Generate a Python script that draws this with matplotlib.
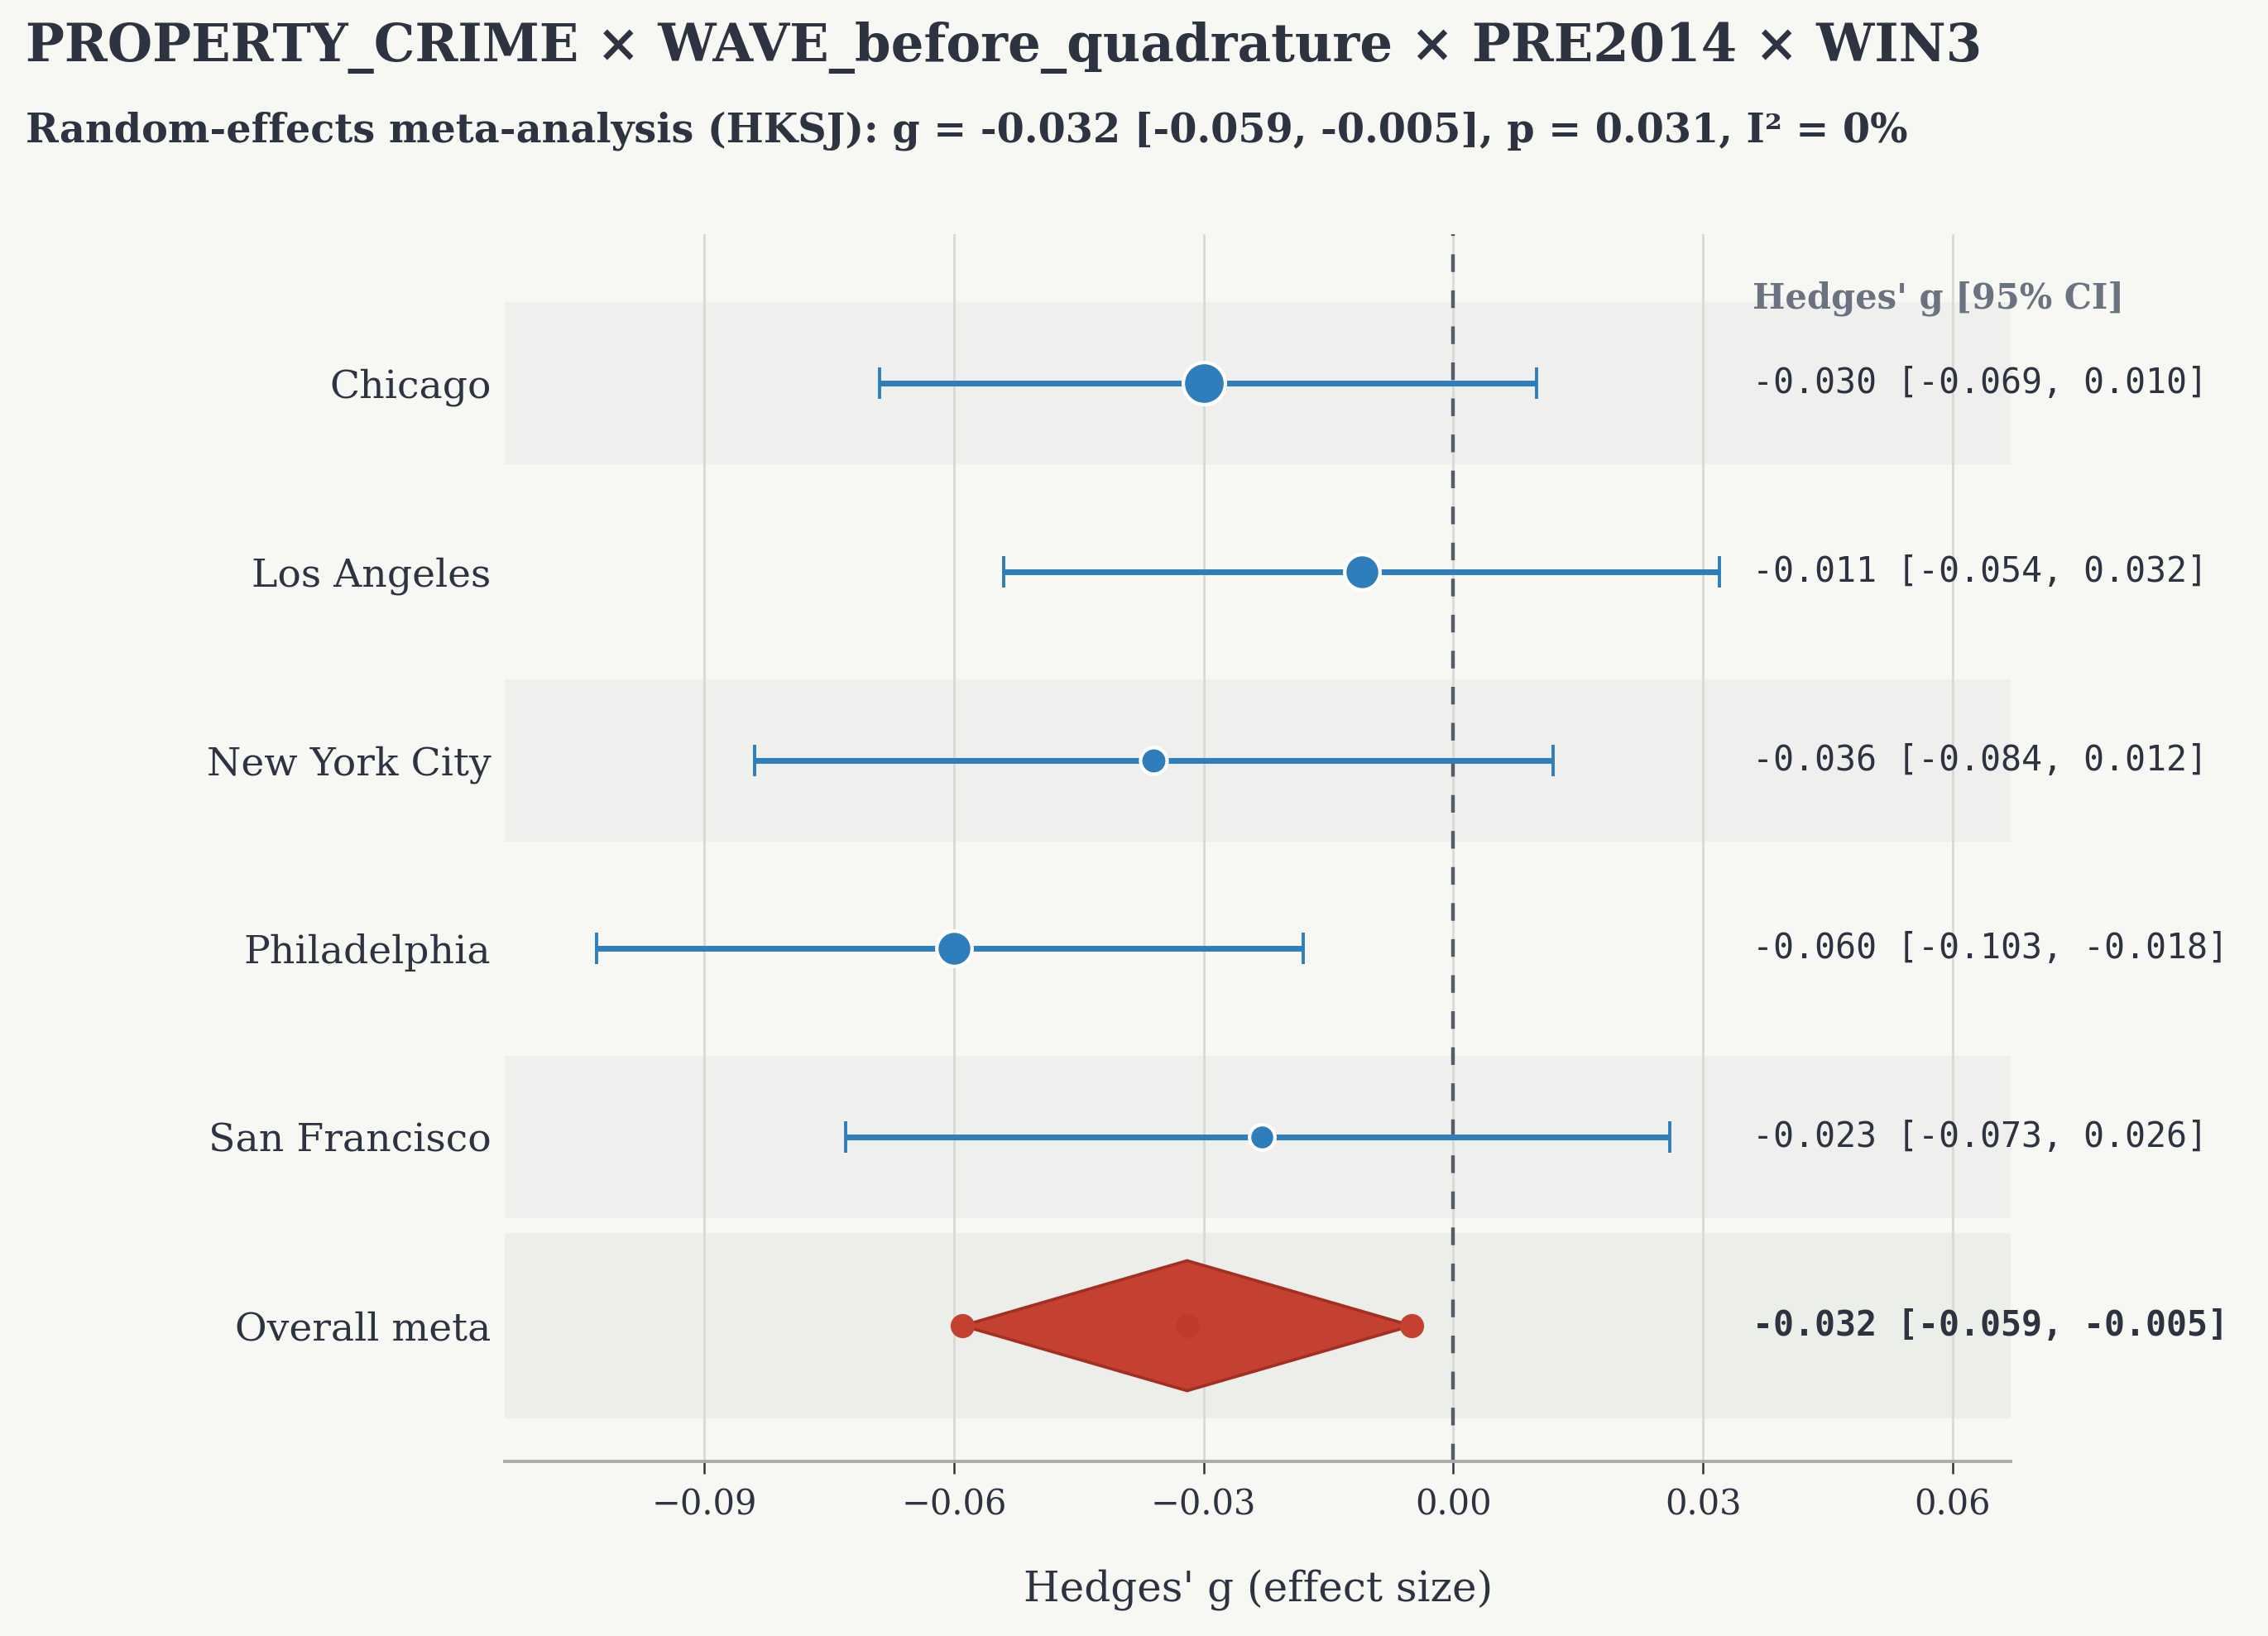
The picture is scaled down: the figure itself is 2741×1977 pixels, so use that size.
import matplotlib
matplotlib.use("Agg")
import matplotlib.pyplot as plt
import numpy as np

studies = ["Chicago", "Los Angeles", "New York City", "Philadelphia", "San Francisco"]
g = [-0.030, -0.011, -0.036, -0.060, -0.023]
lo = [-0.069, -0.054, -0.084, -0.103, -0.073]
hi = [0.010, 0.032, 0.012, -0.018, 0.026]
weights = [1.0, 0.76, 0.45, 0.76, 0.41]
overall_label = "Overall meta"
overall = -0.032
overall_lo = -0.059
overall_hi = -0.005
xticks = [-0.09, -0.06, -0.03, 0.00, 0.03, 0.06]

BG = "#f7f7f3"
BLUE = "#2e7ebb"
RED = "#c44031"
DARK = "#2d3340"

fig = plt.figure(figsize=(2741/200, 1977/200), dpi=200, facecolor=BG)
ax = fig.add_axes([0.2226, 0.1067, 0.664, 0.7502])
ax.set_facecolor(BG)

n = len(studies)
ypos = np.arange(n, 0, -1)  # 5..1
for i, y in enumerate(ypos):
    if i % 2 == 0:
        ax.axhspan(y - 0.43, y + 0.43, color="#efefed", zorder=0, lw=0)
ax.axhspan(-0.49, 0.49, color="#eceee9", zorder=0, lw=0)

ax.set_xlim(-0.114, 0.067)
ax.set_ylim(-0.72, n + 0.79)
ax.set_xticks(xticks)
ax.grid(axis="x", color="#d8d8d4", lw=1.0, zorder=0.5)
ax.set_axisbelow(True)

ax.axvline(0, color="#555c6a", ls=(0, (4.8, 5.0)), lw=1.6, zorder=1)

for y, gi, l, h, w in zip(ypos, g, lo, hi, weights):
    ax.errorbar([gi], [y], xerr=[[gi - l], [h - gi]], fmt="none", ecolor=BLUE,
                elinewidth=2.5, capsize=6.7, capthick=1.4, zorder=3)
    ax.plot([gi], [y], "o", ms=6 + 12.3 * w, color=BLUE, mec="white", mew=1.5, zorder=4)

hh = 0.345
ax.fill([overall_lo, overall, overall_hi, overall], [0, hh, 0, -hh],
        facecolor=RED, edgecolor="#a32e22", lw=1.3, zorder=3)
ax.plot([overall_lo, overall_hi], [0, 0], "o", ms=9.5, color=RED, zorder=4)
ax.plot([overall], [0], "o", ms=9.5, color="#c0392b", alpha=0.6, zorder=4)

ax.set_yticks(list(ypos) + [0])
ax.set_yticklabels(studies + [overall_label], family="DejaVu Serif", fontsize=17, color=DARK)
ax.tick_params(axis="y", length=0, pad=6)
ax.tick_params(axis="x", length=5.5, color=DARK, labelsize=15, labelcolor=DARK, width=0.9, pad=6)
for lab in ax.get_xticklabels():
    lab.set_family("DejaVu Serif")

for s in ["top", "right", "left"]:
    ax.spines[s].set_visible(False)
ax.spines["bottom"].set_color("#aaaca5")
ax.spines["bottom"].set_linewidth(1.4)

ax.set_xlabel("Hedges' g (effect size)", family="DejaVu Serif", fontsize=18, color=DARK, labelpad=20)

tx = 0.036
ax.text(tx, n + 0.45, "Hedges' g [95% CI]", family="DejaVu Serif", fontsize=15,
        fontweight="bold", color="#6b7280", va="center", ha="left")
for y, gi, l, h in zip(ypos, g, lo, hi):
    ax.text(tx, y, f"{gi:.3f} [{l:.3f}, {h:.3f}]", family="DejaVu Sans Mono",
            fontsize=15, color=DARK, va="center", ha="left")
ax.text(tx, 0, f"{overall:.3f} [{overall_lo:.3f}, {overall_hi:.3f}]", family="DejaVu Sans Mono",
        fontsize=15, fontweight="bold", color=DARK, va="center", ha="left")

fig.text(0.0113, 0.971, "PROPERTY_CRIME × WAVE_before_quadrature × PRE2014 × WIN3",
         family="DejaVu Serif", fontsize=22.5, fontweight="bold", color=DARK, va="center", ha="left")
fig.text(0.0113, 0.92, "Random-effects meta-analysis (HKSJ): g = -0.032 [-0.059, -0.005], p = 0.031, I² = 0%",
         family="DejaVu Serif", fontsize=17.2, fontweight="bold", color=DARK, va="center", ha="left")

fig.savefig("out.png", dpi=200, facecolor=BG)
